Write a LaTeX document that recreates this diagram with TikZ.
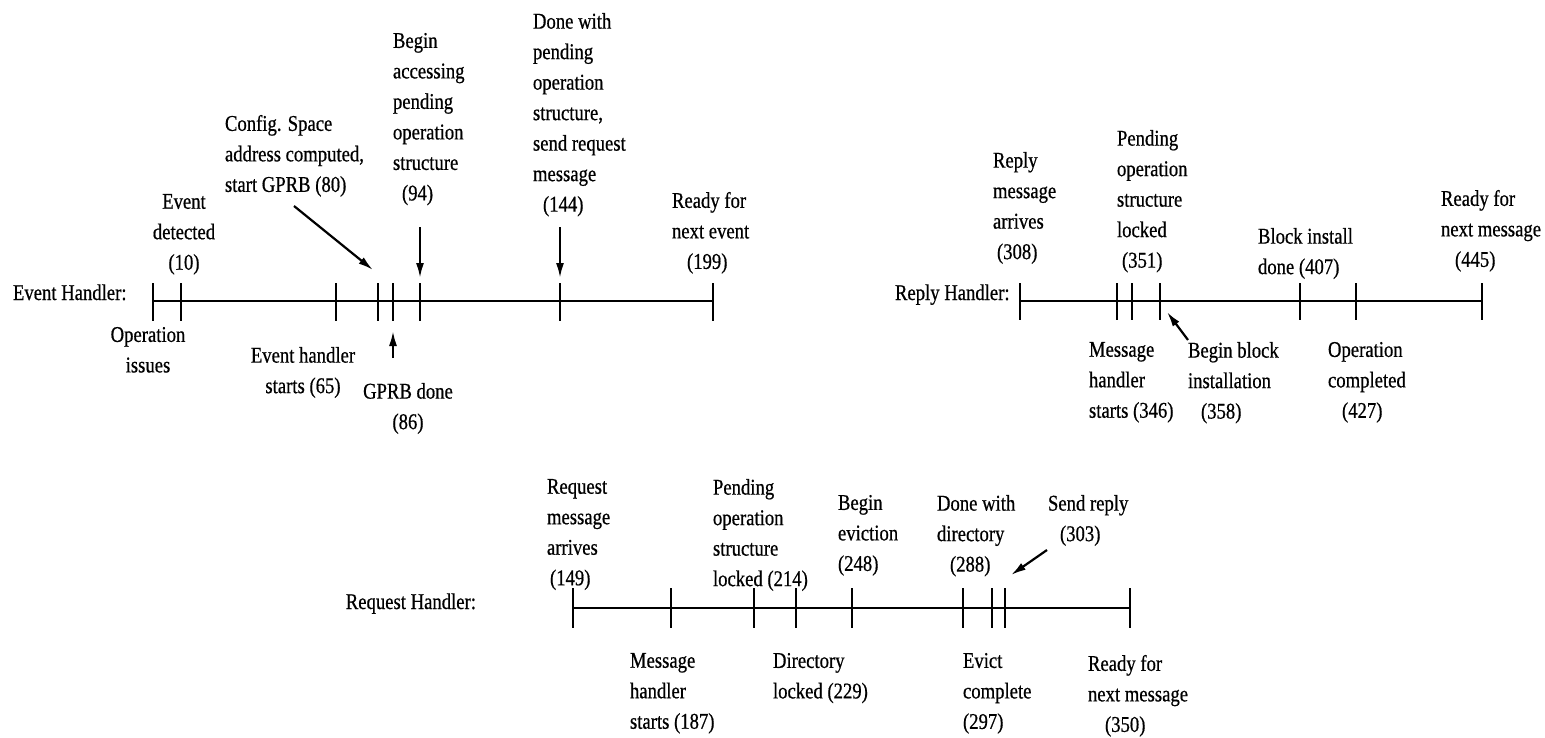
\documentclass[tikz,border=0pt]{standalone}
\usepackage{fontspec}
\setmainfont{Liberation Serif}[FakeStretch=0.83,FakeBold=0.6]
\usetikzlibrary{arrows.meta}

\begin{document}
\begin{tikzpicture}[x=1pt,y=-1pt,
  every node/.style={inner sep=0pt, outer sep=0pt, font=\fontsize{22.5}{30.5}\selectfont},
  lbl/.style={align=left, anchor=north west},
  clbl/.style={align=center, anchor=north},
  hname/.style={anchor=base west},
  axis/.style={line width=2.8pt},
  tick/.style={line width=2.2pt},
  pointer/.style={line width=2.2pt, -{Latex[length=15pt,width=8pt]}},
]
\useasboundingbox[fill=white] (0,0) rectangle (1545,737);

% ---------------- Event handler timeline ----------------
\coordinate (ev-start) at (153,301);
\coordinate (ev-end) at (713,301);
\draw[axis] (ev-start) -- (ev-end);
\foreach \n/\x in {0/153,10/181,65/336,80/378,86/393,94/420,144/560,199/713}{
  \coordinate (ev\n) at (\x,283);
  \coordinate (ev\n b) at (\x,321);
  \draw[tick] (ev\n) -- (ev\n b);
}
\node[hname] (evname) at (13,300) {Event Handler:};
\node[clbl] (l10) at (184,194) {Event\\detected\\(10)};
\node[clbl] (l0) at (148,327) {Operation\\issues};
\node[clbl] (l65) at (303,347) {Event handler\\starts (65)};
\node[clbl] (l86) at (408,383) {GPRB done\\(86)};
\node[lbl] (l80) at (225,115) {Config. Space\\address computed,\\start GPRB (80)};
\node[lbl] (l94) at (393,33) {Begin\\accessing\\pending\\operation\\structure\\\hspace*{9pt}(94)};
\node[lbl] (l144) at (533,13) {Done with\\pending\\operation\\structure,\\send request\\message\\\hspace*{10pt}(144)};
\node[lbl] (l199) at (672,192) {Ready for\\next event\\\hspace*{15pt}(199)};

\coordinate (a80) at (294,206);
\coordinate (t80) at (373,270);
\draw[pointer] (a80) -- (t80);
\coordinate (a86) at (393,358);
\draw[pointer] (a86) -- ([yshift=-10pt]ev86b);
\coordinate (a94) at (420,227);
\draw[pointer] (a94) -- ([yshift=5pt]ev94);
\coordinate (a144) at (560,227);
\draw[pointer] (a144) -- ([yshift=5pt]ev144);

% ---------------- Reply handler timeline ----------------
\coordinate (rp-start) at (1020,301);
\coordinate (rp-end) at (1482,301);
\draw[axis] (rp-start) -- (rp-end);
\foreach \n/\x in {308/1020,346/1117,351/1132,358/1160,407/1300,427/1356,445/1482}{
  \coordinate (rp\n) at (\x,283);
  \coordinate (rp\n b) at (\x,320);
  \draw[tick] (rp\n) -- (rp\n b);
}
\node[hname] (rpname) at (895,300) {Reply Handler:};
\node[lbl] (r308) at (993,152) {Reply\\message\\arrives\\\hspace*{4pt}(308)};
\node[lbl] (r351) at (1117,130) {Pending\\operation\\structure\\locked\\\hspace*{5pt}(351)};
\node[lbl] (r407) at (1258,228) {Block install\\done (407)};
\node[lbl] (r445) at (1441,190) {Ready for\\next message\\\hspace*{14pt}(445)};
\node[lbl] (r346) at (1089,342) {Message\\handler\\starts (346)};
\node[lbl] (r358) at (1188,342) {Begin block\\installation\\\hspace*{13pt}(358)};
\node[lbl] (r427) at (1328,342) {Operation\\completed\\\hspace*{14pt}(427)};

\coordinate (a358) at (1188,340);
\coordinate (t358) at (1167,312);
\draw[pointer] (a358) -- (t358);

% ---------------- Request handler timeline ----------------
\coordinate (rq-start) at (573,608);
\coordinate (rq-end) at (1130,608);
\draw[axis] (rq-start) -- (rq-end);
\foreach \n/\x in {149/573,187/671,214/754,229/796,248/852,288/963,297/992,303/1005,350/1130}{
  \coordinate (rq\n) at (\x,588);
  \coordinate (rq\n b) at (\x,628);
  \draw[tick] (rq\n) -- (rq\n b);
}
\node[anchor=base east] (rqname) at (476,609) {Request Handler:};
\node[lbl] (q149) at (547,479) {Request\\message\\arrives\\\hspace*{3pt}(149)};
\node[lbl] (q214) at (713,479) {Pending\\operation\\structure\\locked (214)};
\node[lbl] (q248) at (838,495) {Begin\\eviction\\(248)};
\node[lbl] (q288) at (937,495) {Done with\\directory\\\hspace*{13pt}(288)};
\node[lbl] (q303) at (1048,495) {Send reply\\\hspace*{12pt}(303)};
\node[lbl] (q187) at (630,653) {Message\\handler\\starts (187)};
\node[lbl] (q229) at (773,653) {Directory\\locked (229)};
\node[lbl] (q297) at (963,653) {Evict\\complete\\(297)};
\node[lbl] (q350) at (1088,655) {Ready for\\next message\\\hspace*{17pt}(350)};

\coordinate (a303) at (1047,550);
\coordinate (t303) at (1011,575);
\draw[pointer] (a303) -- (t303);
\end{tikzpicture}
\end{document}
